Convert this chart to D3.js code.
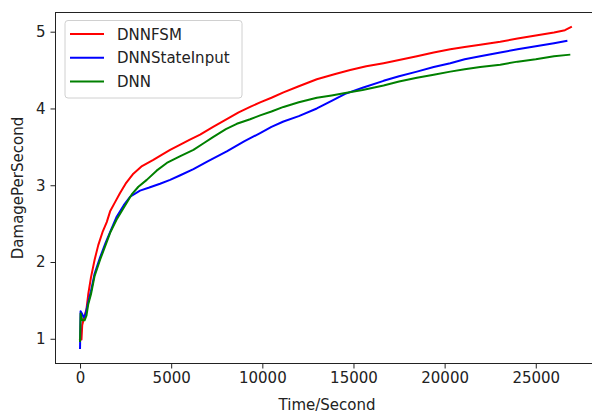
<!DOCTYPE html>
<html>
<head>
<meta charset="utf-8">
<style>
  body { margin: 0; background: #fff; }
  svg { font-family: "DejaVu Sans", sans-serif; }
</style>
</head>
<body>
<svg id="chart" width="592" height="414"></svg>
<script src="https://cdn.jsdelivr.net/npm/d3@7"></script>
<script>

// values
var timeFSM = [0, 80, 120, 250, 350, 450, 600, 800, 1000, 1250, 1465, 1650, 1900, 2195, 2500, 2925, 3400, 4020, 4500, 4940,
  5500, 6000, 6586, 7300, 8050, 8700, 9330, 9880, 10500, 11160, 12000, 12990, 14000, 14820, 15700, 16650, 17500, 18480,
  19400, 20310, 21100, 21950, 23050, 24000, 25000, 26000, 26600, 26930];
var dpsFSM = [1.00, 0.99, 1.18, 1.30, 1.38, 1.58, 1.80, 2.03, 2.22, 2.40, 2.52, 2.66, 2.77, 2.90, 3.02, 3.15, 3.25, 3.33, 3.40, 3.46,
  3.53, 3.59, 3.66, 3.76, 3.86, 3.95, 4.02, 4.08, 4.14, 4.21, 4.29, 4.38, 4.45, 4.50, 4.55, 4.59, 4.63, 4.68,
  4.73, 4.77, 4.80, 4.83, 4.87, 4.91, 4.95, 4.99, 5.02, 5.06];

var timeState = [0, 30, 100, 200, 300, 450, 600, 800, 1100, 1400, 1700, 2010, 2400, 2745, 3290, 3800, 4390, 4940, 5500, 6220,
  7000, 8050, 9000, 9880, 10500, 11160, 12000, 12990, 13800, 14545, 15500, 16650, 17500, 18480, 19400, 20310, 21100,
  21950, 23050, 24000, 25000, 26000, 26680];
var dpsState = [0.88, 1.36, 1.33, 1.28, 1.32, 1.48, 1.62, 1.85, 2.06, 2.25, 2.42, 2.59, 2.74, 2.85, 2.93, 2.97, 3.02, 3.07, 3.13, 3.21,
  3.31, 3.44, 3.57, 3.68, 3.76, 3.83, 3.90, 4.00, 4.10, 4.19, 4.27, 4.36, 4.42, 4.48, 4.54, 4.59, 4.64,
  4.68, 4.73, 4.77, 4.81, 4.85, 4.88];

var timeDNN = [0, 30, 120, 250, 350, 450, 600, 800, 1100, 1400, 1650, 2000, 2380, 2835, 3200, 3660, 4200, 4760, 5500, 6220,
  6800, 7315, 8000, 8600, 9330, 9880, 10500, 11160, 12000, 12990, 13800, 14545, 15500, 16650, 17500, 18480, 19400,
  20310, 21100, 21950, 23050, 24000, 25000, 26000, 26840];
var dpsDNN = [0.97, 1.33, 1.24, 1.24, 1.30, 1.45, 1.58, 1.82, 2.03, 2.22, 2.38, 2.55, 2.70, 2.88, 2.98, 3.07, 3.19, 3.29, 3.38, 3.46,
  3.55, 3.63, 3.73, 3.80, 3.86, 3.91, 3.96, 4.02, 4.08, 4.14, 4.17, 4.20, 4.24, 4.30, 4.35, 4.40, 4.44,
  4.48, 4.51, 4.54, 4.57, 4.61, 4.64, 4.68, 4.70];

var seriesNames = ["DNNFSM", "DNNStateInput", "DNN"];
var seriesColors = ["red", "blue", "green"];
var xTicks = [0, 5000, 10000, 15000, 20000, 25000];
var yTicks = [1, 2, 3, 4, 5];

var series = [
  {name: seriesNames[0], color: seriesColors[0], t: timeFSM, v: dpsFSM},
  {name: seriesNames[1], color: seriesColors[1], t: timeState, v: dpsState},
  {name: seriesNames[2], color: seriesColors[2], t: timeDNN, v: dpsDNN}
];

var plotLeft = 55.5, plotRight = 595.5, plotTop = 12.5, plotBottom = 363.5;
var fontSize = "15px";

var svg = d3.select("#chart");

var x = d3.scaleLinear().domain([-1346, 28276]).range([plotLeft, plotRight]);
var y = d3.scaleLinear().domain([0.678, 5.25]).range([plotBottom, plotTop]);

var line = d3.line()
  .x(function(d) { return x(d[0]); })
  .y(function(d) { return y(d[1]); });

var plot = svg.append("g");
plot.append("defs").append("clipPath").attr("id", "clip")
  .append("rect").attr("x", plotLeft).attr("y", plotTop)
  .attr("width", plotRight - plotLeft).attr("height", plotBottom - plotTop);

series.forEach(function(s) {
  plot.append("path")
    .datum(d3.zip(s.t, s.v))
    .attr("clip-path", "url(#clip)")
    .attr("fill", "none")
    .attr("stroke", s.color)
    .attr("stroke-width", 2)
    .attr("stroke-linejoin", "round")
    .attr("stroke-linecap", "square")
    .attr("d", line);
});

// axes
var xAxis = svg.append("g")
  .attr("transform", "translate(0," + plotBottom + ")")
  .call(d3.axisBottom(x).tickValues(xTicks).tickFormat(d3.format("d"))
    .tickSize(5).tickPadding(4).tickSizeOuter(0));
var yAxis = svg.append("g")
  .attr("transform", "translate(" + plotLeft + ",0)")
  .call(d3.axisLeft(y).tickValues(yTicks).tickFormat(d3.format("d"))
    .tickSize(5).tickPadding(5).tickSizeOuter(0));

[xAxis, yAxis].forEach(function(a) {
  a.selectAll("text").attr("font-size", fontSize).attr("font-family", "DejaVu Sans").attr("fill", "#222");
  a.selectAll("line").attr("stroke", "#222");
  a.select(".domain").remove();
});

// frame
svg.append("rect")
  .attr("x", plotLeft).attr("y", plotTop)
  .attr("width", plotRight - plotLeft).attr("height", plotBottom - plotTop)
  .attr("fill", "none").attr("stroke", "#222").attr("stroke-width", 1);

svg.append("text")
  .attr("x", 327).attr("y", 410)
  .attr("text-anchor", "middle")
  .attr("font-size", fontSize).attr("fill", "#222")
  .text("Time/Second");

svg.append("text")
  .attr("transform", "translate(23," + (plotTop + plotBottom) / 2 + ") rotate(-90)")
  .attr("text-anchor", "middle")
  .attr("font-size", fontSize).attr("fill", "#222")
  .text("DamagePerSecond");

// legend
var legend = svg.append("g");
legend.append("rect")
  .attr("x", 65).attr("y", 20.5).attr("width", 177).attr("height", 77.5).attr("rx", 3)
  .attr("fill", "white").attr("fill-opacity", 0.8)
  .attr("stroke", "#d0d0d0");
series.forEach(function(s, i) {
  var ly = 34 + i * 23.8;
  legend.append("line")
    .attr("x1", 70).attr("x2", 104).attr("y1", ly).attr("y2", ly)
    .attr("stroke", s.color).attr("stroke-width", 2);
  legend.append("text")
    .attr("x", 117).attr("y", ly + 5.5)
    .attr("font-size", fontSize).attr("fill", "#222")
    .text(s.name);
});

</script>
</body>
</html>
